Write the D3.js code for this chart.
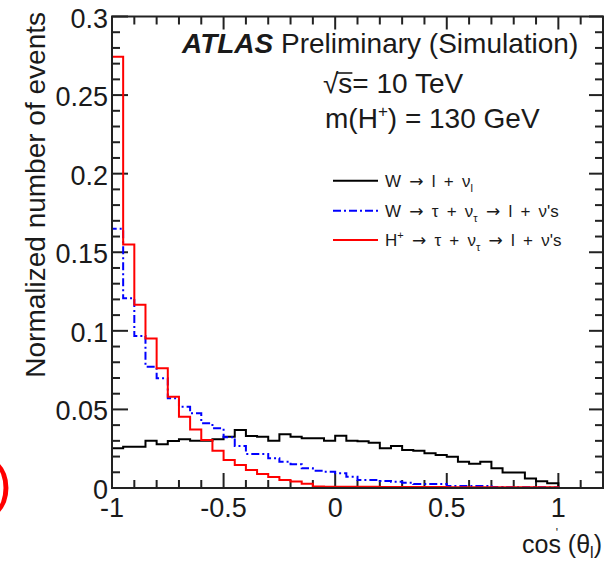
<!DOCTYPE html>
<html>
<head>
<meta charset="utf-8">
<script src="https://cdn.jsdelivr.net/npm/d3@7"></script>
<style>
  html, body { margin: 0; padding: 0; background: #fff; }
  svg { display: block; }
  text { font-family: "Liberation Sans", Arial, Helvetica, sans-serif; fill: #1a1a1a; }
  .arrow { font-family: "DejaVu Sans", sans-serif; }
</style>
</head>
<body>
<svg id="chart" width="605" height="561"></svg>
<script>
// Histogram binning: 44 bins of width 0.05 spanning cos(theta_l) from -1 to 1.2
const xMin = -1.0;
const xMax = 1.2;
const binWidth = 0.05;

// Normalized event fractions per bin
const wLepton = [
  0.0253, 0.0263, 0.0263, 0.0301, 0.0278, 0.0299, 0.0310, 0.0301, 0.0301, 0.0310,
  0.0326, 0.0369, 0.0331, 0.0326, 0.0301, 0.0342, 0.0326, 0.0316, 0.0316, 0.0301,
  0.0333, 0.0301, 0.0298, 0.0288, 0.0253, 0.0267, 0.0242, 0.0237, 0.0221, 0.0210,
  0.0199, 0.0167, 0.0155, 0.0167, 0.0125, 0.0098, 0.0098, 0.0060, 0.0043, 0.0030,
  0, 0, 0, 0
];
const wTau = [
  0.1650, 0.1207, 0.0967, 0.0772, 0.0698, 0.0571, 0.0517, 0.0475, 0.0412, 0.0380,
  0.0323, 0.0268, 0.0216, 0.0216, 0.0189, 0.0167, 0.0151, 0.0125, 0.0110, 0.0104,
  0.0094, 0.0072, 0.0051, 0.0051, 0.0045, 0.0040, 0.0034, 0.0025, 0.0025, 0.0025,
  0.0013, 0.0013, 0.0013, 0.0013, 0.0006, 0.0005, 0.0005, 0.0005, 0.0004, 0.0003,
  0, 0, 0, 0
];
const hTau = [
  0.2744, 0.1550, 0.1166, 0.0952, 0.0762, 0.0581, 0.0454, 0.0373, 0.0305, 0.0237,
  0.0178, 0.0146, 0.0115, 0.0089, 0.0070, 0.0051, 0.0042, 0.0027, 0.0010, 0.0008,
  0.0008, 0.0008, 0.0008, 0.0008, 0.0006, 0.0006, 0.0006, 0.0006, 0.0006, 0.0006,
  0.0005, 0.0005, 0.0005, 0.0005, 0.0005, 0.0005, 0.0004, 0.0004, 0.0004, 0.0004,
  0, 0, 0, 0
];

// Axis tick values and labels
const xMajorTicks = [-1, -0.5, 0, 0.5, 1];
const xTickLabels = ["-1", "-0.5", "0", "0.5", "1"];
const yMajorTicks = [0, 0.05, 0.1, 0.15, 0.2, 0.25, 0.3];
const yTickLabels = ["0", "0.05", "0.1", "0.15", "0.2", "0.25", "0.3"];

const svg = d3.select("#chart");
const frame = { left: 112, right: 603, top: 16.5, bottom: 488 };

const x = d3.scaleLinear().domain([xMin, xMax]).range([frame.left, frame.right]);
const y = d3.scaleLinear().domain([0, 0.3]).range([frame.bottom, frame.top]);

const nBins = Math.round((xMax - xMin) / binWidth);
const edges = d3.range(nBins + 1).map(i => +(xMin + i * binWidth).toFixed(4));

// Step outline of a histogram, as drawn by ROOT
function stepPath(values) {
  const p = d3.path();
  p.moveTo(x(edges[0]), y(0));
  values.forEach((v, i) => {
    p.lineTo(x(edges[i]), y(v));
    p.lineTo(x(edges[i + 1]), y(v));
  });
  p.lineTo(x(edges[nBins]), y(0));
  return p.toString();
}

// Frame ticks (minor and major on all four sides, pointing inward)
const tickG = svg.append("g").attr("stroke", "#222").attr("stroke-width", 2);
const xMinor = d3.range(0, 23).map(i => +(xMin + i * 0.1).toFixed(3));
xMinor.forEach(v => {
  const major = xMajorTicks.some(t => Math.abs(t - v) < 1e-6);
  const len = major ? 15 : 8;
  tickG.append("line").attr("x1", x(v)).attr("x2", x(v))
    .attr("y1", frame.bottom).attr("y2", frame.bottom - len);
  tickG.append("line").attr("x1", x(v)).attr("x2", x(v))
    .attr("y1", frame.top).attr("y2", frame.top + (major ? 13 : 8));
});
const yMinor = d3.range(0, 31).map(i => +(i * 0.01).toFixed(3));
yMinor.forEach(v => {
  const major = yMajorTicks.some(t => Math.abs(t - v) < 1e-6);
  const len = major ? 16 : 8;
  tickG.append("line").attr("x1", frame.left).attr("x2", frame.left + len)
    .attr("y1", y(v)).attr("y2", y(v));
  tickG.append("line").attr("x1", frame.right).attr("x2", frame.right - (major ? 14 : 8))
    .attr("y1", y(v)).attr("y2", y(v));
});

// Histograms
svg.append("path").attr("d", stepPath(wLepton))
  .attr("fill", "none").attr("stroke", "#000").attr("stroke-width", 2);
svg.append("path").attr("d", stepPath(wTau))
  .attr("fill", "none").attr("stroke", "#0000ff").attr("stroke-width", 2)
  .attr("stroke-dasharray", "8,3,2,3");
svg.append("path").attr("d", stepPath(hTau))
  .attr("fill", "none").attr("stroke", "#ff0000").attr("stroke-width", 2);

// Frame box
svg.append("rect")
  .attr("x", frame.left).attr("y", frame.top)
  .attr("width", frame.right - frame.left).attr("height", frame.bottom - frame.top)
  .attr("fill", "none").attr("stroke", "#222").attr("stroke-width", 2);

// Tick labels
svg.append("g").selectAll("text").data(yMajorTicks).join("text")
  .attr("x", 108).attr("y", d => y(d) + 11)
  .attr("text-anchor", "end").attr("font-size", 27)
  .text((d, i) => yTickLabels[i]);
svg.append("g").selectAll("text").data(xMajorTicks).join("text")
  .attr("x", d => x(d)).attr("y", 517)
  .attr("text-anchor", "middle").attr("font-size", 27)
  .text((d, i) => xTickLabels[i]);

// Axis titles
svg.append("text")
  .attr("transform", "translate(45,12) rotate(-90)")
  .attr("text-anchor", "end").attr("font-size", 28)
  .text("Normalized number of events");

const xt = svg.append("text").attr("x", 602).attr("y", 553)
  .attr("text-anchor", "end").attr("font-size", 25);
xt.append("tspan").text("cos (θ");
xt.append("tspan").attr("font-size", 16).attr("dy", 5).text("l");
xt.append("tspan").attr("dy", -5).text(")");
svg.append("text").attr("x", 557).attr("y", 537)
  .attr("text-anchor", "middle").attr("font-size", 12).text("'");

// Labels inside the frame
const t1 = svg.append("text").attr("x", 182).attr("y", 53).attr("font-size", 28);
t1.append("tspan").attr("font-weight", "bold").attr("font-style", "italic").text("ATLAS");
t1.append("tspan").text(" Preliminary (Simulation)");

const t2 = svg.append("text").attr("x", 323).attr("y", 93).attr("font-size", 28)
  .text("√s= 10 TeV");
// overbar of the square root over "s"
const e0 = t2.node().getExtentOfChar(0);
const e1 = t2.node().getExtentOfChar(1);
svg.append("line")
  .attr("x1", e0.x + e0.width - 2).attr("x2", e1.x + e1.width)
  .attr("y1", 73).attr("y2", 73)
  .attr("stroke", "#1a1a1a").attr("stroke-width", 1.6);

const t3 = svg.append("text").attr("x", 325).attr("y", 128).attr("font-size", 28);
t3.append("tspan").text("m(H");
t3.append("tspan").attr("font-size", 17).attr("dy", -11).text("+");
t3.append("tspan").attr("dy", 11).text(") = 130 GeV");

// Legend: each part is [text, kind] with kind 0 normal, 1 subscript, -1 superscript, 2 arrow
const legendRows = [
  { color: "#000", dash: null,
    parts: [["W ", 0], ["→", 2], [" l + ν", 0], ["l", 1]] },
  { color: "#0000ff", dash: "8,3,2,3",
    parts: [["W ", 0], ["→", 2], [" τ + ν", 0], ["τ", 1], [" ", 0], ["→", 2], [" l + ν's", 0]] },
  { color: "#ff0000", dash: null,
    parts: [["H", 0], ["+", -1], [" ", 0], ["→", 2], [" τ + ν", 0], ["τ", 1], [" ", 0], ["→", 2], [" l + ν's", 0]] }
];
const legendY = [180.7, 210.7, 240];
legendRows.forEach((row, i) => {
  svg.append("line")
    .attr("x1", 333).attr("x2", 378).attr("y1", legendY[i]).attr("y2", legendY[i])
    .attr("stroke", row.color).attr("stroke-width", 2)
    .attr("stroke-dasharray", row.dash);
  const t = svg.append("text").attr("x", 385).attr("y", legendY[i] + 6)
    .attr("font-size", 17).style("word-spacing", "3.5px");
  let shift = 0;
  row.parts.forEach(([s, kind]) => {
    const target = kind === 1 ? 5 : kind === -1 ? -7 : 0;
    const ts = t.append("tspan").attr("dy", target - shift)
      .attr("font-size", kind === 1 || kind === -1 ? 11 : 17).text(s);
    if (kind === 2) ts.attr("class", "arrow");
    shift = target;
  });
});

// Panel marker at the left edge
svg.append("text").attr("x", 12).attr("y", 502).attr("text-anchor", "end")
  .attr("font-family", "Liberation Serif, Times New Roman, serif")
  .attr("font-size", 56).style("fill", "#ff0000").text(")");
</script>
</body>
</html>
